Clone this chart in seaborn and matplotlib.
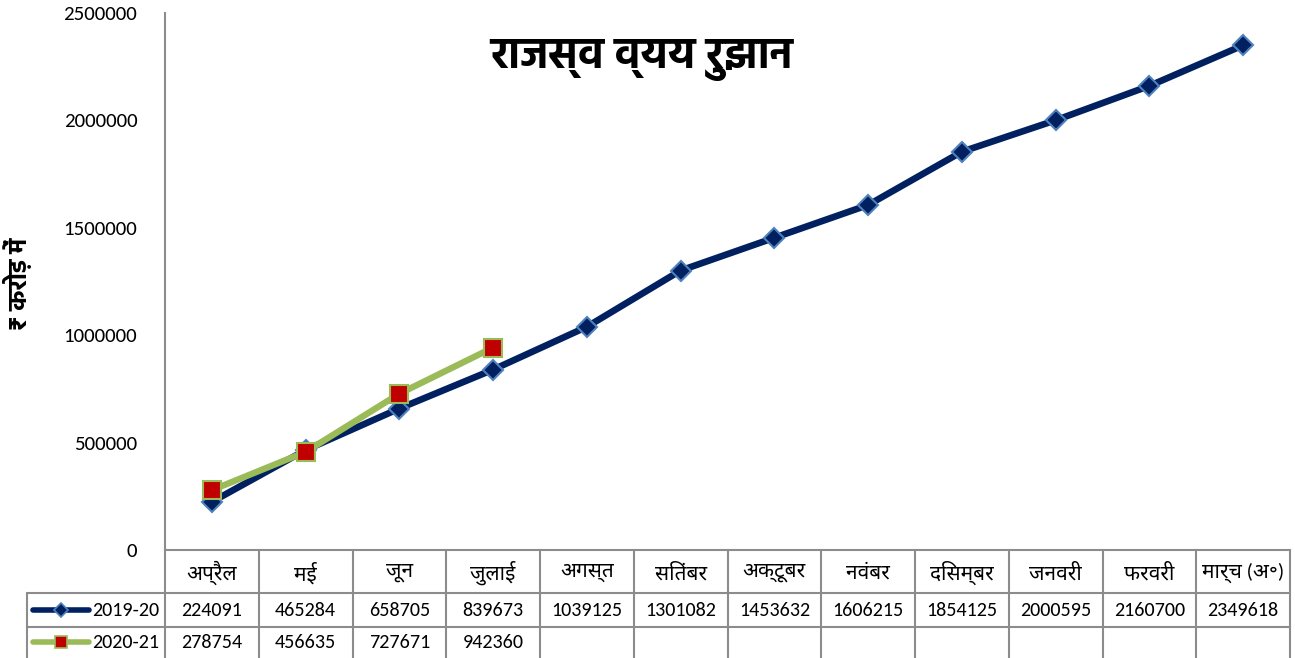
import pandas as pd
import matplotlib
matplotlib.use("Agg")
import matplotlib.pyplot as plt
import matplotlib.transforms as mtrans
import seaborn as sns
import warnings
warnings.filterwarnings("ignore")

# 数据
months = ["अप्रैल", "मई", "जून", "जुलाई", "अगस्त", "सितंबर", "अक्टूबर",
          "नवंबर", "दिसम्बर", "जनवरी", "फरवरी", "मार्च (अ॰)"]
vals_1920 = [224091, 465284, 658705, 839673, 1039125, 1301082, 1453632,
             1606215, 1854125, 2000595, 2160700, 2349618]
vals_2021 = [278754, 456635, 727671, 942360]
series_names = ["2019-20", "2020-21"]
yticks = [0, 500000, 1000000, 1500000, 2000000, 2500000]

sns.set_theme(style="white")
plt.rcParams["font.family"] = ["Carlito", "Noto Sans Devanagari", "FreeSans", "DejaVu Sans"]
plt.rcParams["text.color"] = "black"
plt.rcParams["ytick.color"] = "black"
bold_fam = ["Hind", "Ek Mukta", "Noto Sans Devanagari", "DejaVu Sans"]

navy = "#002060"
navy_edge = "#4F81BD"
green = "#9BBB59"
red = "#C00000"
grid_c = "#8C8C8C"

df1 = pd.DataFrame({"pos": range(len(vals_1920)), "val": vals_1920})
df2 = pd.DataFrame({"pos": range(len(vals_2021)), "val": vals_2021})

fig = plt.figure(figsize=(12.95, 6.58), dpi=100)
ax = fig.add_axes([165 / 1295, 108 / 658, 1125 / 1295, 537 / 658])

sns.lineplot(data=df1, x="pos", y="val", ax=ax, color=navy, linewidth=4.8,
             marker="D", markersize=10, markerfacecolor=navy,
             markeredgecolor=navy_edge, markeredgewidth=1.5, zorder=3)
sns.lineplot(data=df2, x="pos", y="val", ax=ax, color=green, linewidth=4.6,
             marker="s", markersize=13, markerfacecolor=red,
             markeredgecolor=green, markeredgewidth=1.5, zorder=4)

ax.set_xlim(-0.5, len(months) - 0.5)
ax.set_ylim(0, 2500000)
ax.set_yticks(yticks)
ax.set_yticklabels([str(v) for v in yticks], fontsize=15)
ax.tick_params(axis="y", length=0, pad=20)
ax.set_xticks([])
ax.set_xlabel("")
ax.set_ylabel("")
for s in ["top", "right"]:
    ax.spines[s].set_visible(False)
ax.spines["left"].set_color(grid_c)
ax.spines["left"].set_linewidth(1.5)
ax.spines["bottom"].set_color(grid_c)
ax.spines["bottom"].set_linewidth(1.5)

# y轴标题与图标题
fig.text(18 / 1295, 1 - 284 / 658, "₹ करोड़ में", rotation=90, ha="center", va="center",
         fontsize=18, fontweight="bold", family=bold_fam)
fig.text(642 / 1295, 1 - 60 / 658, "राजस्व व्यय रुझान", ha="center", va="center",
         fontsize=31, fontweight="bold", family=bold_fam)

# ===================== 数据表 =====================
tr = mtrans.blended_transform_factory(ax.transData, ax.transAxes)
def yf(p):
    return (550 - p) / 537

lk = dict(color=grid_c, linewidth=1.5, clip_on=False, transform=tr)
x_left = -0.5 - 138 / 93.75
x_right = len(months) - 0.5
# 横线
ax.plot([x_left, x_right], [yf(593), yf(593)], **lk)
ax.plot([x_left, x_right], [yf(627), yf(627)], **lk)
# 竖线
for i in range(len(months) + 1):
    ax.plot([i - 0.5, i - 0.5], [yf(550), yf(658)], **lk)
ax.plot([x_left, x_left], [yf(593), yf(658)], **lk)

for i, m in enumerate(months):
    ax.text(i, yf(573), m, ha="center", va="center", fontsize=15, transform=tr)
for i, v in enumerate(vals_1920):
    ax.text(i, yf(610), str(v), ha="center", va="center", fontsize=14.5, transform=tr)
for i, v in enumerate(vals_2021):
    ax.text(i, yf(642), str(v), ha="center", va="center", fontsize=14.5, transform=tr)

# 行标签图例
styles = [(navy, "D", navy, navy_edge, 7), (green, "s", red, green, 8)]
for r, (name, st) in enumerate(zip(series_names, styles)):
    yy = yf(610 + 32 * r)
    c, mk, fc, ec, ms = st
    xs = [x_left + 6 / 93.75, x_left + 62 / 93.75]
    ax.plot(xs, [yy, yy], color=c, linewidth=4, clip_on=False, transform=tr,
            solid_capstyle="round")
    ax.plot([sum(xs) / 2], [yy], marker=mk, markersize=ms, markerfacecolor=fc,
            markeredgecolor=ec, markeredgewidth=1.2, clip_on=False, transform=tr)
    ax.text(x_left + 65 / 93.75, yy, name, ha="left", va="center", fontsize=14.5,
            transform=tr)

fig.savefig("out.png", dpi=100)
plt.close()
